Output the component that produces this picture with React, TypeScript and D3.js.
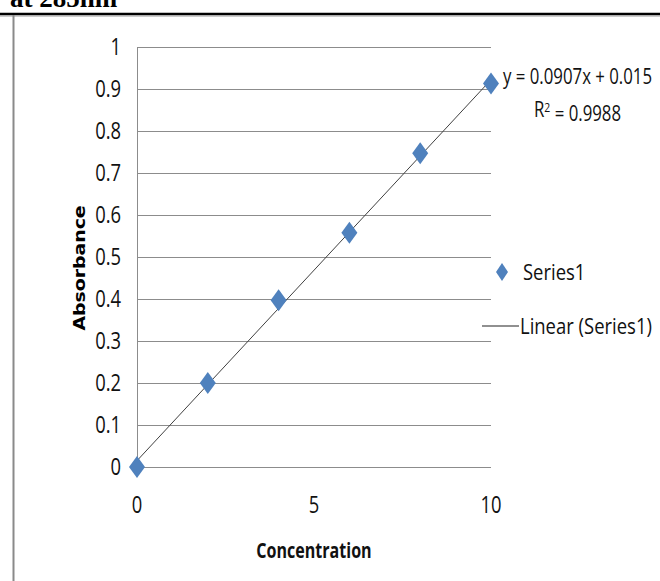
import { useEffect, useRef } from "react";
import * as d3 from "d3";

const concentration = [0, 2, 4, 6, 8, 10];
const absorbance = [0.0, 0.2, 0.397, 0.558, 0.747, 0.913];
const yTicks = [0, 0.1, 0.2, 0.3, 0.4, 0.5, 0.6, 0.7, 0.8, 0.9, 1];
const xTicks = [0, 5, 10];
const slope = 0.0907;
const intercept = 0.015;

const W = 660;
const H = 581;
const FONT = "'Open Sans', 'Noto Sans', sans-serif";
const SQUEEZE = 0.8; // the chart text in the picture is tall and narrow

export default function App() {
  const ref = useRef<SVGSVGElement>(null);

  useEffect(() => {
    const svg = d3.select(ref.current);
    svg.selectAll("*").remove();

    const x = d3.scaleLinear().domain([0, 10]).range([137, 491]);
    const y = d3.scaleLinear().domain([0, 1]).range([467, 47]);

    // squeezed text helper
    const label = (parent: any, tx: number, ty: number, size: number, anchor: string, txt: string, bold = false, sx = SQUEEZE) =>
      parent.append("text")
        .attr("transform", `translate(${tx},${ty}) scale(${sx},1)`)
        .attr("dy", "0.35em")
        .attr("text-anchor", anchor)
        .attr("font-family", FONT)
        .attr("font-weight", bold ? "bold" : "normal")
        .attr("font-size", size)
        .attr("fill", "#111")
        .text(txt);

    // page frame bits: title cut off at the top, rule and left border
    svg.append("text")
      .attr("x", 10)
      .attr("y", 7)
      .attr("font-family", "'Liberation Serif', 'Times New Roman', serif")
      .attr("font-weight", "bold")
      .attr("font-size", 27)
      .text("at 285nm");

    svg.append("line")
      .attr("x1", 0).attr("x2", W)
      .attr("y1", 14).attr("y2", 14)
      .attr("stroke", "#000").attr("stroke-width", 2.5);
    svg.append("line")
      .attr("x1", 0).attr("x2", W)
      .attr("y1", 16).attr("y2", 16)
      .attr("stroke", "#999").attr("stroke-width", 1);
    svg.append("line")
      .attr("x1", 13.5).attr("x2", 13.5)
      .attr("y1", 15).attr("y2", H)
      .attr("stroke", "#8a8a8a").attr("stroke-width", 2);

    // gridlines
    const g = svg.append("g");
    g.selectAll("line.grid")
      .data(yTicks)
      .join("line")
      .attr("class", "grid")
      .attr("x1", x(0)).attr("x2", x(10))
      .attr("y1", (d) => Math.round(y(d)) + 0.5)
      .attr("y2", (d) => Math.round(y(d)) + 0.5)
      .attr("stroke", "#8c8c8c")
      .attr("stroke-width", 1);

    // y axis line
    g.append("line")
      .attr("x1", x(0) + 0.5).attr("x2", x(0) + 0.5)
      .attr("y1", y(1)).attr("y2", y(0))
      .attr("stroke", "#8c8c8c");

    // tick labels
    yTicks.forEach((d) => label(g, 121, y(d), 23, "end", d3.format("~g")(d)));
    xTicks.forEach((d) => label(g, x(d), 505, 23, "middle", String(d)));

    // axis titles
    label(g, x(5), 550, 22, "middle", "Concentration", true, 0.73);

    g.append("text")
      .attr("transform", "translate(79,268) rotate(-90) scale(1.18,1)")
      .attr("dy", "0.35em")
      .attr("text-anchor", "middle")
      .attr("font-family", "'DejaVu Sans', Verdana, sans-serif")
      .attr("font-weight", "bold")
      .attr("font-size", 16)
      .text("Absorbance");

    // trendline
    g.append("line")
      .attr("x1", x(0)).attr("y1", y(intercept))
      .attr("x2", x(10)).attr("y2", y(slope * 10 + intercept))
      .attr("stroke", "#404040")
      .attr("stroke-width", 1);

    // diamonds
    const diamond = (cx: number, cy: number, w: number, h: number) =>
      `M${cx},${cy - h / 2}L${cx + w / 2},${cy}L${cx},${cy + h / 2}L${cx - w / 2},${cy}Z`;

    g.selectAll("path.pt")
      .data(concentration)
      .join("path")
      .attr("class", "pt")
      .attr("d", (d, i) => diamond(x(d), y(absorbance[i]), 16, 22))
      .attr("fill", "#4f81bd");

    // equation
    label(g, 503, 77, 21, "start", "y = 0.0907x + 0.015");

    const r2 = g.append("text")
      .attr("transform", `translate(534,110) scale(${SQUEEZE},1)`)
      .attr("dy", "0.35em")
      .attr("font-family", FONT)
      .attr("font-size", 21)
      .attr("fill", "#111");
    r2.append("tspan").text("R");
    r2.append("tspan").attr("dy", "-0.45em").attr("font-size", 13).text("2");
    r2.append("tspan").attr("dy", "0.45em").text(" = 0.9988");

    // legend
    g.append("path")
      .attr("d", diamond(502, 272, 12, 18))
      .attr("fill", "#4f81bd");
    label(g, 523, 272, 22, "start", "Series1", false, 0.84);

    g.append("line")
      .attr("x1", 482).attr("x2", 519)
      .attr("y1", 326).attr("y2", 326)
      .attr("stroke", "#222").attr("stroke-width", 1.2);
    label(g, 520, 326, 22, "start", "Linear (Series1)", false, 0.84);
  }, []);

  return (
    <svg
      ref={ref}
      width={W}
      height={H}
      style={{ position: "absolute", left: 0, top: 0, background: "#fff" }}
    ></svg>
  );
}
